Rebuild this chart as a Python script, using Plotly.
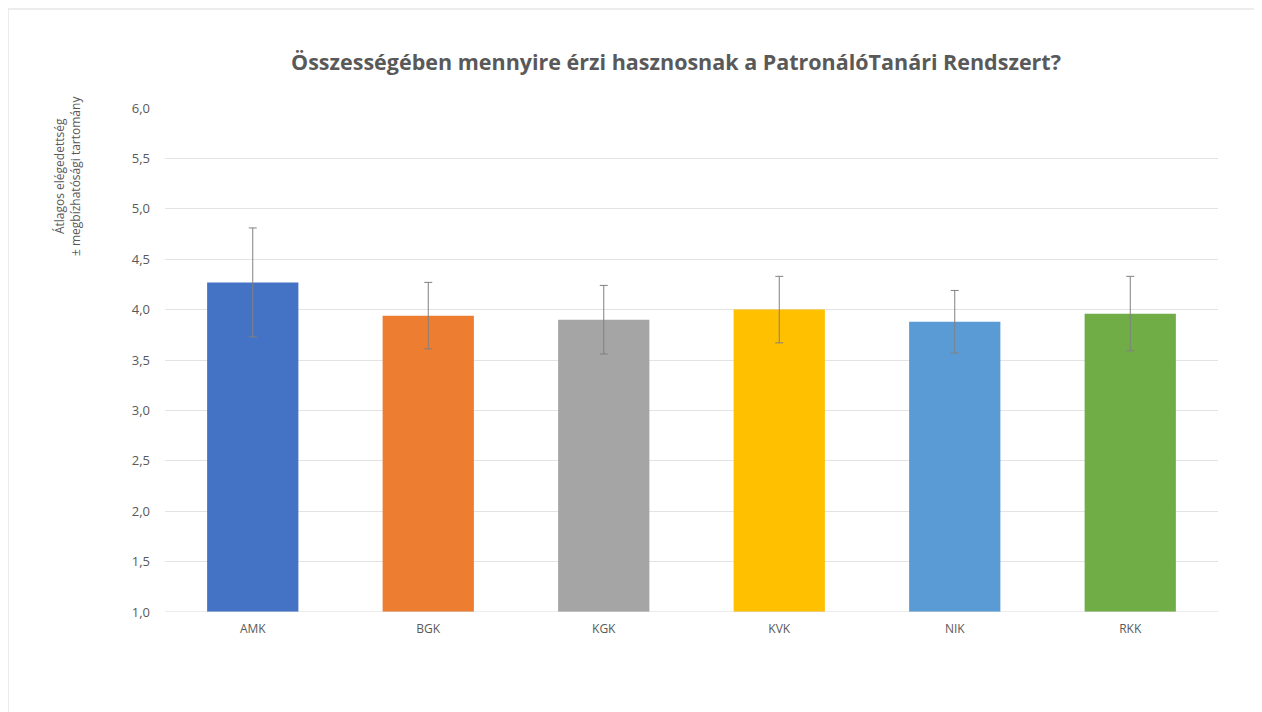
import plotly.graph_objects as go

categories = ["AMK", "BGK", "KGK", "KVK", "NIK", "RKK"]
means = [4.27, 3.94, 3.90, 4.00, 3.88, 3.96]
errors = [0.54, 0.33, 0.34, 0.33, 0.31, 0.37]
colors = ["#4472C4", "#ED7D31", "#A5A5A5", "#FFC000", "#5B9BD5", "#70AD47"]
y_ticks = [1.0, 1.5, 2.0, 2.5, 3.0, 3.5, 4.0, 4.5, 5.0, 5.5, 6.0]

# page has an 8px body margin; work in figure coordinates
OFF = 8
W, H = 1254, 704
L, T = 165 - OFF, 108 - OFF
R = W - (1218 - OFF)
B = H - (612 - OFF)
pw, ph = W - L - R, H - T - B

fig = go.Figure()
fig.add_trace(go.Bar(
    x=categories,
    y=[m - 1.0 for m in means],
    base=1.0,
    marker=dict(color=colors, line=dict(width=0)),
    width=0.52,
    error_y=dict(type="data", array=errors, color="#808080", thickness=1, width=4),
    hoverinfo="skip",
))

fig.update_layout(
    width=W, height=H,
    margin=dict(l=L, r=R, t=T, b=B),
    paper_bgcolor="white",
    plot_bgcolor="white",
    separators=", ",
    showlegend=False,
    font=dict(family="Open Sans, Lato, sans-serif", color="#595959"),
    title=dict(
        text="<b>Összességében mennyire érzi hasznosnak a PatronálóTanári Rendszert?</b>",
        x=(676 - 8 - L) / pw, xref="paper",
        y=1 - (62 - OFF) / H, yref="container",
        xanchor="center", yanchor="middle",
        font=dict(size=21.5, color="#595959", family="Open Sans, sans-serif"),
    ),
    xaxis=dict(
        showgrid=False, showline=False, zeroline=False,
        tickfont=dict(size=12, color="#595959", family="Open Sans, sans-serif"),
        ticks="", ticklabelstandoff=8,
    ),
    yaxis=dict(
        range=[1.0, 6.0],
        tickvals=y_ticks,
        tickformat=".1f",
        showgrid=True, gridcolor="#E3E3E3", gridwidth=1,
        zeroline=False, showline=False, ticks="",
        tickfont=dict(size=13, color="#595959"),
        ticklabelstandoff=14,
    ),
    shapes=[
        dict(type="rect", xref="paper", yref="paper",
             x0=(0 - L) / pw, x1=(1251 - L) / pw,
             y0=-(H + 10 - (H - B)) / ph,
             y1=((H - B) - 1) / ph,
             line=dict(color="#D9D9D9", width=1), fillcolor="rgba(0,0,0,0)", layer="below"),
        dict(type="line", xref="paper", yref="y", x0=0, x1=1, y0=1.0, y1=1.0,
             line=dict(color="#D9D9D9", width=1)),
    ],
    annotations=[
        dict(text="Átlagos elégedettség<br>± megbízhatósági tartomány",
             xref="paper", yref="paper",
             x=(67 - OFF - L) / pw, y=((H - B) - (176 - OFF)) / ph,
             xanchor="center", yanchor="middle", textangle=-90,
             showarrow=False, font=dict(size=12, color="#595959")),
    ],
)

fig.write_html("out.html")
